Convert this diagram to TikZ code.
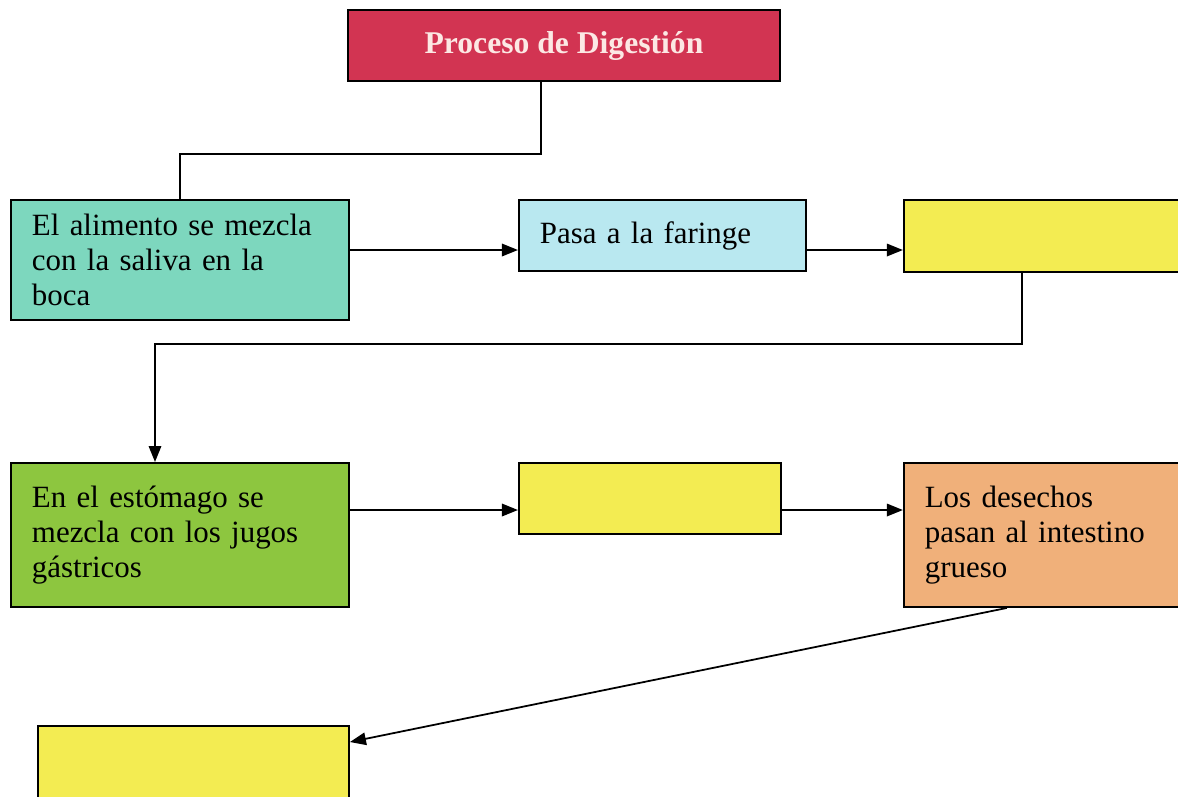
\documentclass[tikz,border=0pt]{standalone}
\usepackage{fontspec}
\setmainfont{Liberation Serif}
\usepackage{xcolor}
\usepackage{tikz}
\usetikzlibrary{arrows.meta, positioning, calc}

\definecolor{titlered}{RGB}{210,52,82}
\definecolor{titletext}{RGB}{252,232,228}
\definecolor{mouthteal}{RGB}{125,215,190}
\definecolor{pharynxblue}{RGB}{185,232,240}
\definecolor{blankyellow}{RGB}{243,236,82}
\definecolor{stomachgreen}{RGB}{141,198,63}
\definecolor{colonorange}{RGB}{240,176,122}

\begin{document}
\begin{tikzpicture}[
    stage/.style={rectangle, draw, line width=1.1pt, fill=#1, align=left, inner xsep=0.42cm, font=\fontsize{17.6}{20}\selectfont},
    heading/.style={rectangle, draw, line width=1.1pt, fill=titlered, text=titletext, minimum width=8.64cm, minimum height=1.42cm, font=\fontsize{18}{20}\selectfont\bfseries},
    arrow/.style={-{Triangle[length=3.2mm, width=2.5mm]}, line width=1pt},
    link/.style={line width=1pt},
]
\path[use as bounding box, clip] (0,0) rectangle (23.56,-15.92);

% Title
\node[heading] (process) at (11.28,-0.91) {Proceso de Digestión};

% First row
\node[stage=mouthteal, text width=5.92cm, minimum height=2.4cm, anchor=north west] (mouth) at (0.2,-3.98) {El alimento se mezcla\\con la saliva en la\\boca};
\node[stage=pharynxblue, text width=4.9cm, minimum height=1.42cm, right=3.36cm of mouth.north east, anchor=north west] (pharynx) {Pasa a la faringe};
\node[stage=blankyellow, text width=4.96cm, minimum height=1.44cm, right=1.92cm of pharynx.north east, anchor=north west] (esoph) {};

% Second row
\node[stage=stomachgreen, text width=5.92cm, minimum height=2.88cm, below=5.26cm of mouth.north west, anchor=north west] (stomach) {En el estómago se\\mezcla con los jugos\\gástricos};
\node[stage=blankyellow, text width=4.4cm, minimum height=1.42cm, right=3.36cm of stomach.north east, anchor=north west] (smallint) {};
\node[stage=colonorange, text width=4.96cm, minimum height=2.88cm, right=2.42cm of smallint.north east, anchor=north west] (colon) {Los desechos\\pasan al intestino\\grueso};

% Last
\node[stage=blankyellow, text width=5.38cm, minimum height=1.6cm, anchor=north west] (exitbox) at (0.74,-14.5) {};

\draw[link] ([xshift=-0.46cm]process.south) -- ++(0,-1.44) -| (mouth.north);
\draw[arrow] ([yshift=-1.02cm]mouth.north east) -- ([yshift=-1.02cm]pharynx.north west);
\draw[arrow] ([yshift=-1.02cm]pharynx.north east) -- ([yshift=-1.02cm]esoph.north west);
\draw[arrow] ([xshift=2.38cm]esoph.south west) -- ++(0,-1.42) -| ([xshift=2.9cm]stomach.north west);
\draw[arrow] ([yshift=-0.96cm]stomach.north east) -- ([yshift=-0.96cm]smallint.north west);
\draw[arrow] ([yshift=-0.96cm]smallint.north east) -- ([yshift=-0.96cm]colon.north west);
\draw[arrow] ([xshift=2.08cm]colon.south west) -- ([yshift=-0.34cm]exitbox.north east);

\end{tikzpicture}
\end{document}
